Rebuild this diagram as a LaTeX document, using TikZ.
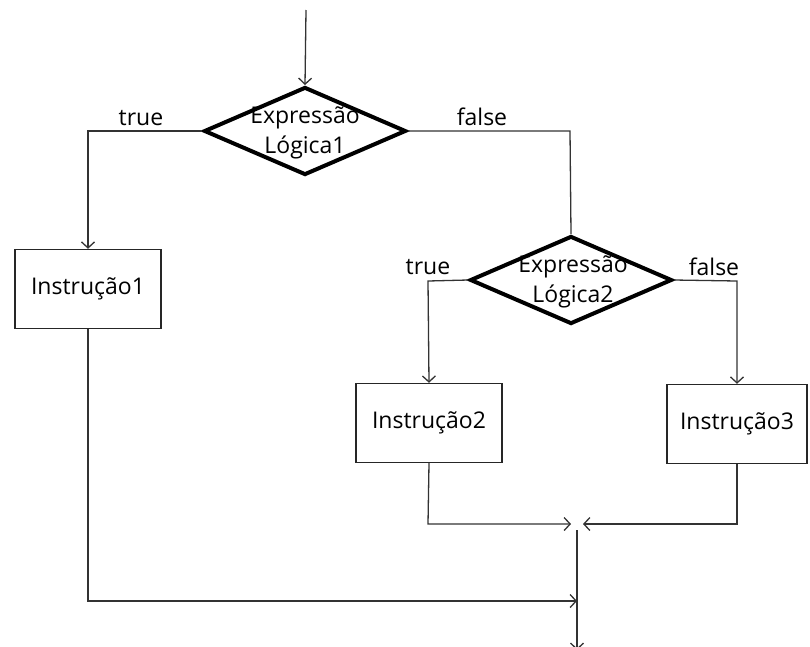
\documentclass[tikz,border=0pt]{standalone}
\usepackage{fontspec}
\setmainfont{Open Sans}
\usetikzlibrary{shapes.geometric,arrows.meta}
\begin{document}
\begin{tikzpicture}[x=1pt,y=-1pt,
  txt/.style={font=\fontsize{23}{30}\selectfont,align=center,inner sep=0pt},
  dec/.style={draw=black,shape=diamond,line width=4pt,inner sep=0pt,minimum width=202pt,minimum height=88pt,fill=none},
  box/.style={draw=black!85,line width=1.4pt,minimum width=146pt,minimum height=79pt,inner sep=0pt,font=\fontsize{23}{30}\selectfont},
  conn/.style={draw=black!80,line width=1.3pt},
  arr/.style={conn,-{Straight Barb[length=6pt,width=13pt,line width=1.3pt]}},
  lbl/.style={font=\fontsize{23}{26}\selectfont,inner sep=0pt}]
\useasboundingbox (0,0) rectangle (810,646);
% decisions
\node[dec] (d1) at (305,131) {};
\node[txt] (t1) at (305,133) {Expressão\\Lógica1};
\node[dec] (d2) at (571,280) {};
\node[txt] (t2) at (573,282) {Expressão\\Lógica2};
% boxes
\node[box] (b1) at (88,289) {Instrução1};
\node[box] (b2) at (429,423) {Instrução2};
\node[box,minimum width=140pt] (b3) at (737,424) {Instrução3};
% helper coordinates
\coordinate (start) at (306,10);
\coordinate (c1) at (88,131);
\coordinate (c2) at (570,131);
\coordinate (c3) at (428,281);
\coordinate (c4) at (737,281);
\coordinate (c5) at (88,601);
\coordinate (m1) at (577,601);
\coordinate (c6) at (428,524);
\coordinate (c7) at (737,524);
\coordinate (m2) at (571,524);
\coordinate (m3) at (583,524);
\coordinate (mtop) at (577,530);
\coordinate (mend) at (577,650);
% connectors
\draw[arr] (start) -- (d1.north);
\draw[arr] (d1.west) -- (c1) -- (b1.north);
\draw[conn] (d1.east) -- (c2) -- (d2.north);
\draw[arr] (d2.west) -- (c3) -- (b2.north);
\draw[arr] (d2.east) -- (c4) -- (b3.north);
\draw[arr] (b1.south) -- (c5) -- (m1);
\draw[arr] (b2.south) -- (c6) -- (m2);
\draw[arr] (b3.south) -- (c7) -- (m3);
\draw[arr] (mtop) -- (mend);
% labels
\node[lbl] (l1) at (141,118) {true};
\node[lbl] (l2) at (482,117) {false};
\node[lbl] (l3) at (428,267) {true};
\node[lbl] (l4) at (714,267) {false};
\end{tikzpicture}
\end{document}
